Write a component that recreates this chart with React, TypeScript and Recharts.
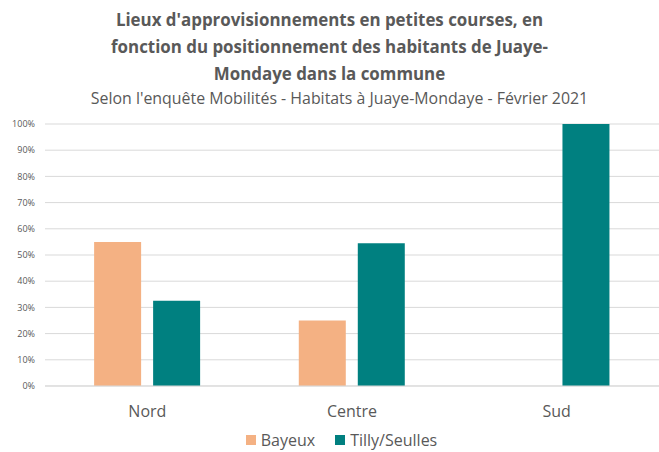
import { Bar, BarChart, CartesianGrid, Legend, XAxis, YAxis } from "recharts";

const categories = ["Nord", "Centre", "Sud"];
const bayeux = [55, 25, 0];
const tilly = [32.5, 54.5, 100];
const yTicks = [0, 10, 20, 30, 40, 50, 60, 70, 80, 90, 100];

const seriesNames = { bayeux: "Bayeux", tilly: "Tilly/Seulles" };
const colors = { bayeux: "#F4B183", tilly: "#008080" };

const data = categories.map((name, i) => ({
  name,
  bayeux: bayeux[i],
  tilly: tilly[i],
}));

const font = "'Open Sans', sans-serif";
const textColor = "#595959";

function LegendBox() {
  return (
    <div style={{ height: 26 }}>
      <div
        style={{
          position: "relative",
          top: 3,
          left: 11,
          display: "flex",
          justifyContent: "center",
          gap: 20,
          fontFamily: font,
          fontSize: 16,
          color: textColor,
          lineHeight: "22px",
        }}
      >
        {(["bayeux", "tilly"] as const).map((k) => (
          <span key={k} style={{ display: "flex", alignItems: "center", gap: 5 }}>
            <span style={{ width: 10, height: 10, background: colors[k], display: "inline-block" }} />
            {seriesNames[k]}
          </span>
        ))}
      </div>
    </div>
  );
}

export default function App() {
  return (
    <div style={{ position: "absolute", left: 0, top: 0, width: 659, height: 452, background: "#fff" }}>
      <div
        style={{
          position: "absolute",
          top: 6,
          left: 0,
          width: 659,
          textAlign: "center",
          fontFamily: font,
          color: textColor,
        }}
      >
        <div style={{ fontSize: 16.9, fontWeight: 700, lineHeight: "27px" }}>
          Lieux d'approvisionnements en petites courses, en
          <br />
          fonction du positionnement des habitants de Juaye-
          <br />
          Mondaye dans la commune
        </div>
        <div style={{ fontSize: 15.9, lineHeight: "20px", marginTop: 1, paddingLeft: 20 }}>
          Selon l'enquête Mobilités - Habitats à Juaye-Mondaye - Février 2021
        </div>
      </div>
      <BarChart
        width={659}
        height={452}
        data={data}
        margin={{ top: 124, right: 0, left: 2, bottom: 0 }}
        barCategoryGap="24%"
        barGap={12}
      >
        <CartesianGrid vertical={false} stroke="#d9d9d9" />
        <XAxis
          dataKey="name"
          height={40}
          tickLine={false}
          tickSize={0}
          tickMargin={20}
          axisLine={{ stroke: "#d9d9d9" }}
          tick={{ fill: textColor, fontSize: 16, fontFamily: font }}
        />
        <YAxis
          width={43}
          domain={[0, 100]}
          ticks={yTicks}
          tickFormatter={(v) => `${v}%`}
          axisLine={false}
          tickLine={false}
          tickSize={0}
          tickMargin={10}
          tick={{ fill: textColor, fontSize: 9, fontFamily: font }}
        />
        <Legend verticalAlign="bottom" content={() => <LegendBox />} />
        <Bar dataKey="bayeux" name={seriesNames.bayeux} fill={colors.bayeux} isAnimationActive={false} />
        <Bar dataKey="tilly" name={seriesNames.tilly} fill={colors.tilly} isAnimationActive={false} />
      </BarChart>
    </div>
  );
}
